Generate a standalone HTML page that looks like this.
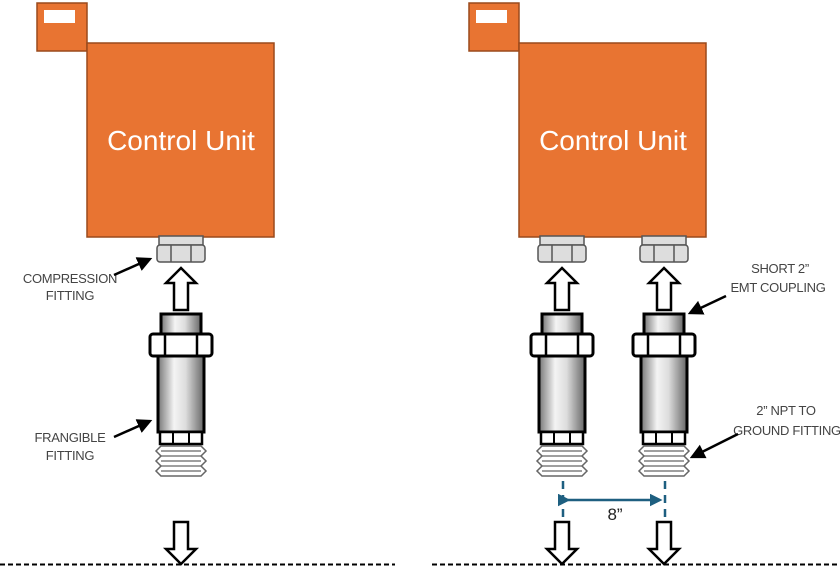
<!DOCTYPE html>
<html><head><style>body{margin:0;background:#fff}svg{display:block}</style></head><body>
<svg width="840" height="568" viewBox="0 0 840 568" xmlns="http://www.w3.org/2000/svg" font-family="Liberation Sans, sans-serif">
<defs>
<linearGradient id="g" x1="0" x2="1"><stop offset="0" stop-color="#777"/><stop offset="0.35" stop-color="#f4f4f4"/><stop offset="0.6" stop-color="#ddd"/><stop offset="1" stop-color="#666"/></linearGradient>
<g id="nut">
<rect x="-22" y="0" width="44" height="9" fill="#ddd" stroke="#555" stroke-width="1.5"/>
<rect x="-24" y="9" width="48" height="17" rx="3" fill="#ddd" stroke="#555" stroke-width="1.5"/>
<line x1="-10" y1="9" x2="-10" y2="26" stroke="#555" stroke-width="1.5"/><line x1="10" y1="9" x2="10" y2="26" stroke="#555" stroke-width="1.5"/>
</g>
<g id="up"><path d="M-7,43 V16 H-15 L0,1 L15,16 H7 V43 Z" fill="#fff" stroke="#000" stroke-width="2.5"/></g>
<g id="down"><path d="M-7,0 V27 H-15 L0,42 L15,27 H7 V0 Z" fill="#fff" stroke="#000" stroke-width="2.5"/></g>
<g id="fit">
<rect x="-20" y="314" width="40" height="20" fill="url(#g)" stroke="#000" stroke-width="3"/>
<rect x="-31" y="334" width="62" height="22" rx="3" fill="#fff" stroke="#000" stroke-width="3"/>
<line x1="-16" y1="334" x2="-16" y2="356" stroke="#000" stroke-width="2.5"/><line x1="16" y1="334" x2="16" y2="356" stroke="#000" stroke-width="2.5"/>
<rect x="-23" y="356" width="46" height="76" fill="url(#g)" stroke="#000" stroke-width="3"/>
<rect x="-21" y="432" width="42" height="12" fill="#fff" stroke="#000" stroke-width="2.5"/>
<line x1="-8" y1="432" x2="-8" y2="444" stroke="#000" stroke-width="2"/><line x1="8" y1="432" x2="8" y2="444" stroke="#000" stroke-width="2"/>
<path d="M-20,446 H20 L25,451 L20,456 L25,461 L20,466 L25,471 L20,476 H-20 L-25,471 L-20,466 L-25,461 L-20,456 L-25,451 Z" fill="#fff" stroke="#666" stroke-width="1.5"/>
<path d="M-20,451 H20 M-20,456 H20 M-20,461 H20 M-20,466 H20 M-20,471 H20" stroke="#666" stroke-width="1.2"/>
</g>
<marker id="ah" markerWidth="6" markerHeight="6" refX="5" refY="3" orient="auto" markerUnits="strokeWidth"><path d="M0,0 L6,3 L0,6 Z" fill="#000"/></marker>
<marker id="bh" markerWidth="5" markerHeight="5" refX="4" refY="2.5" orient="auto" markerUnits="strokeWidth"><path d="M0,0 L5,2.5 L0,5 Z" fill="#1e5f80"/></marker>
</defs>
<!-- left -->
<rect x="37" y="3" width="50" height="48" fill="#e87432" stroke="#9a4a1c" stroke-width="1.5"/>
<rect x="44" y="10" width="31" height="13" fill="#fff"/>
<rect x="87" y="43" width="187" height="194" fill="#e87432" stroke="#9a4a1c" stroke-width="1.5"/>
<text x="181" y="150" font-size="28" fill="#fff" text-anchor="middle">Control Unit</text>
<use href="#nut" x="181" y="236"/>
<use href="#up" x="181" y="267"/>
<use href="#fit" x="181" y="0"/>
<use href="#down" x="181" y="522"/>
<g font-size="13" fill="#444" text-anchor="middle" letter-spacing="-0.3">
<text x="70" y="283">COMPRESSION</text><text x="70" y="300">FITTING</text>
<text x="70" y="442">FRANGIBLE</text><text x="70" y="460">FITTING</text>
<text x="780" y="273">SHORT 2”</text><text x="778" y="292">EMT COUPLING</text>
<text x="786" y="415">2” NPT TO</text><text x="787" y="435">GROUND FITTING</text>
</g>
<g stroke="#000" stroke-width="2.5" marker-end="url(#ah)">
<line x1="114" y1="275" x2="150" y2="259"/>
<line x1="114" y1="437" x2="150" y2="421"/>
<line x1="726" y1="296" x2="690" y2="313"/>
<line x1="738" y1="434" x2="692" y2="457"/>
</g>
<line x1="0" y1="564.5" x2="395" y2="564.5" stroke="#000" stroke-width="2" stroke-dasharray="5,3"/>
<!-- right -->
<rect x="469" y="3" width="50" height="48" fill="#e87432" stroke="#9a4a1c" stroke-width="1.5"/>
<rect x="476" y="10" width="31" height="13" fill="#fff"/>
<rect x="519" y="43" width="187" height="194" fill="#e87432" stroke="#9a4a1c" stroke-width="1.5"/>
<text x="613" y="150" font-size="28" fill="#fff" text-anchor="middle">Control Unit</text>
<use href="#nut" x="562" y="236"/><use href="#nut" x="664" y="236"/>
<use href="#up" x="562" y="267"/><use href="#up" x="664" y="267"/>
<use href="#fit" x="562" y="0"/><use href="#fit" x="664" y="0"/>
<use href="#down" x="562" y="522"/><use href="#down" x="664" y="522"/>
<g stroke="#1e5f80" stroke-width="2.5" stroke-dasharray="8,6">
<line x1="563" y1="481" x2="563" y2="520"/><line x1="665" y1="481" x2="665" y2="520"/>
</g>
<line x1="568" y1="500" x2="660" y2="500" stroke="#1e5f80" stroke-width="2.5" marker-start="url(#bh)" marker-end="url(#bh)"/>
<text x="615" y="520" font-size="17" fill="#222" text-anchor="middle">8”</text>
<line x1="432" y1="564.5" x2="840" y2="564.5" stroke="#000" stroke-width="2" stroke-dasharray="5,3"/>
</svg>
</body></html>
